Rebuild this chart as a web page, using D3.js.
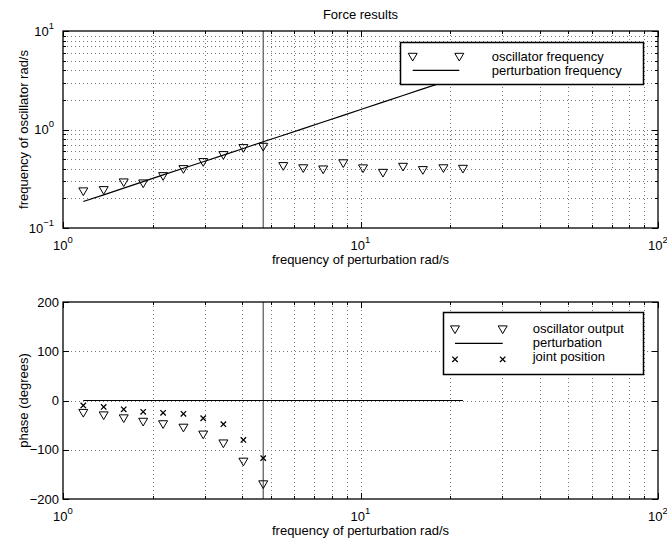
<!DOCTYPE html>
<html>
<head>
<meta charset="utf-8">
<script src="https://cdn.jsdelivr.net/npm/d3@7"></script>
<style>
  body { margin: 0; background: #fff; }
  svg { display: block; font-family: "Liberation Sans", Arial, Helvetica, sans-serif; }
</style>
</head>
<body>
<svg id="chart" width="667" height="541"></svg>
<script>
// Perturbation frequencies (rad/s)
const freqs = [1.17, 1.37, 1.60, 1.86, 2.17, 2.54, 2.96, 3.46, 4.04, 4.71,
               5.50, 6.42, 7.49, 8.75, 10.2, 11.9, 13.9, 16.2, 19.0, 22.1];

// Top panel: oscillator frequency and perturbation frequency
const oscFreq = [0.236, 0.243, 0.291, 0.284, 0.337, 0.397, 0.468, 0.551, 0.649, 0.669,
                 0.426, 0.405, 0.394, 0.455, 0.404, 0.364, 0.419, 0.388, 0.405, 0.400];
const perturbFreq = [0.186, 0.217, 0.254, 0.296, 0.346, 0.404, 0.471, 0.550, 0.642, 0.750,
                     0.875, 1.022, 1.193, 1.392, 1.625, 1.897, 2.214, 2.585, 3.018, 3.522];

// Bottom panel: phases (degrees), only first 10 frequencies for markers
const oscPhase = [-25, -30, -36, -43, -48, -55, -69, -87, -124, -170];
const jointPhase = [-10, -13, -18, -23, -25, -27, -36, -48, -80, -117];
const perturbPhase = [0, 0, 0, 0, 0, 0, 0, 0, 0, 0, 0, 0, 0, 0, 0, 0, 0, 0, 0, 0];

const resonanceFreq = 4.71;

// Tick labels
const xMajor = [1, 10, 100];
const topYMajor = [0.1, 1, 10];
const bottomYMajor = [-200, -100, 0, 100, 200];

const svg = d3.select("#chart");
const left = 63, right = 658;
const x = d3.scaleLog().domain([1, 100]).range([left, right]);

const triPath = "M-4.5,-3.4L4.5,-3.4L0,4.3Z";
const crossPath = "M-2.7,-2.7L2.7,2.7M-2.7,2.7L2.7,-2.7";

// superscripted power of ten label
function powLabel(sel, v) {
  const e = Math.round(Math.log10(v));
  sel.append("tspan").text("10");
  sel.append("tspan")
    .attr("dy", -7)
    .attr("font-size", 9.5)
    .text(e < 0 ? "\u2212" + (-e) : e);
}

function drawFrame(g, y, yGrid, yMajorSet, top, bottom) {
  const xAll = x.ticks();
  const grid = g.append("g")
    .attr("stroke", "#777")
    .attr("stroke-width", 1)
    .attr("stroke-dasharray", "1,3");

  grid.selectAll(".vg")
    .data(xAll.filter(d => d > 1 && d < 100))
    .join("line")
    .attr("x1", d => Math.round(x(d)) + 0.5).attr("x2", d => Math.round(x(d)) + 0.5)
    .attr("y1", top).attr("y2", bottom);

  grid.selectAll(".hg")
    .data(yGrid.filter(d => y(d) > top + 1 && y(d) < bottom - 1))
    .join("line")
    .attr("y1", d => Math.round(y(d)) + 0.5).attr("y2", d => Math.round(y(d)) + 0.5)
    .attr("x1", left).attr("x2", right);

  // inward ticks on all four sides
  const ticks = g.append("g").attr("stroke", "#000").attr("stroke-width", 1);
  xAll.forEach(d => {
    const len = xMajor.includes(d) ? 6 : 3;
    const px = Math.round(x(d)) + 0.5;
    ticks.append("line").attr("x1", px).attr("x2", px).attr("y1", bottom).attr("y2", bottom - len);
    ticks.append("line").attr("x1", px).attr("x2", px).attr("y1", top).attr("y2", top + len);
  });
  yGrid.forEach(d => {
    const len = yMajorSet.includes(d) ? 6 : 3;
    const py = Math.round(y(d)) + 0.5;
    ticks.append("line").attr("y1", py).attr("y2", py).attr("x1", left).attr("x2", left + len);
    ticks.append("line").attr("y1", py).attr("y2", py).attr("x1", right).attr("x2", right - len);
  });
}

function drawBorder(g, top, bottom) {
  g.append("rect")
    .attr("x", left).attr("y", top)
    .attr("width", right - left).attr("height", bottom - top)
    .attr("fill", "none")
    .attr("stroke", "#000")
    .attr("stroke-width", 1.3);
}

function drawResonance(g, top, bottom) {
  g.append("line")
    .attr("x1", x(resonanceFreq)).attr("x2", x(resonanceFreq))
    .attr("y1", top).attr("y2", bottom)
    .attr("stroke", "#555")
    .attr("stroke-width", 1.2);
}

function drawXLabels(g, bottom, labelY) {
  g.selectAll(".xt")
    .data(xMajor)
    .join("text")
    .attr("x", d => x(d))
    .attr("y", bottom + 22)
    .attr("text-anchor", "middle")
    .attr("font-size", 13)
    .each(function(d) { powLabel(d3.select(this), d); });

  g.append("text")
    .attr("x", (left + right) / 2)
    .attr("y", labelY)
    .attr("text-anchor", "middle")
    .attr("font-size", 13)
    .text("frequency of perturbation rad/s");
}

// ---------- Top panel ----------
const t = { top: 31, bottom: 228 };
const yTop = d3.scaleLog().domain([0.1, 10]).range([t.bottom, t.top]);
const gTop = svg.append("g");

drawFrame(gTop, yTop, yTop.ticks(), topYMajor, t.top, t.bottom);
drawResonance(gTop, t.top, t.bottom);

gTop.append("path")
  .datum(freqs.map((f, i) => [f, perturbFreq[i]]))
  .attr("fill", "none")
  .attr("stroke", "#000")
  .attr("stroke-width", 1.2)
  .attr("d", d3.line().x(d => x(d[0])).y(d => yTop(d[1])));

gTop.selectAll(".osc")
  .data(freqs.map((f, i) => [f, oscFreq[i]]))
  .join("path")
  .attr("d", triPath)
  .attr("transform", d => `translate(${x(d[0])},${yTop(d[1])})`)
  .attr("fill", "none")
  .attr("stroke", "#000")
  .attr("stroke-width", 1);

drawBorder(gTop, t.top, t.bottom);

gTop.selectAll(".yt")
  .data(topYMajor)
  .join("text")
  .attr("x", 54)
  .attr("y", d => yTop(d) + 4.5)
  .attr("text-anchor", "end")
  .attr("font-size", 13)
  .each(function(d) { powLabel(d3.select(this), d); });

drawXLabels(gTop, t.bottom, 264);

gTop.append("text")
  .attr("transform", `translate(28,${(t.top + t.bottom) / 2}) rotate(-90)`)
  .attr("text-anchor", "middle")
  .attr("font-size", 13)
  .text("frequency of oscillator rad/s");

svg.append("text")
  .attr("x", (left + right) / 2)
  .attr("y", 19)
  .attr("text-anchor", "middle")
  .attr("font-size", 13)
  .text("Force results");

// top legend
const lgTop = svg.append("g");
lgTop.append("rect")
  .attr("x", 400.5).attr("y", 42.5).attr("width", 243).attr("height", 42)
  .attr("fill", "#fff").attr("stroke", "#000").attr("stroke-width", 1.5);
[412.7, 459.3].forEach(px => {
  lgTop.append("path").attr("d", triPath)
    .attr("transform", `translate(${px},56.7)`)
    .attr("fill", "none").attr("stroke", "#000");
});
lgTop.append("line")
  .attr("x1", 412.7).attr("x2", 459.3).attr("y1", 70.3).attr("y2", 70.3)
  .attr("stroke", "#000").attr("stroke-width", 1.2);
lgTop.selectAll("text")
  .data(["oscillator frequency", "perturbation frequency"])
  .join("text")
  .attr("x", 491.7)
  .attr("y", (d, i) => 61 + i * 13.5)
  .attr("font-size", 13)
  .text(d => d);

// ---------- Bottom panel ----------
const b = { top: 302, bottom: 499 };
const yBot = d3.scaleLinear().domain([-200, 200]).range([b.bottom, b.top]);
const gBot = svg.append("g");

drawFrame(gBot, yBot, bottomYMajor, bottomYMajor, b.top, b.bottom);
drawResonance(gBot, b.top, b.bottom);

gBot.append("path")
  .datum(freqs.map((f, i) => [f, perturbPhase[i]]))
  .attr("fill", "none")
  .attr("stroke", "#000")
  .attr("stroke-width", 1.2)
  .attr("d", d3.line().x(d => x(d[0])).y(d => yBot(d[1])));

gBot.selectAll(".oscp")
  .data(oscPhase.map((p, i) => [freqs[i], p]))
  .join("path")
  .attr("d", triPath)
  .attr("transform", d => `translate(${x(d[0])},${yBot(d[1])})`)
  .attr("fill", "none")
  .attr("stroke", "#000");

gBot.selectAll(".jp")
  .data(jointPhase.map((p, i) => [freqs[i], p]))
  .join("path")
  .attr("d", crossPath)
  .attr("transform", d => `translate(${x(d[0])},${yBot(d[1])})`)
  .attr("fill", "none")
  .attr("stroke", "#000")
  .attr("stroke-width", 1.3);

drawBorder(gBot, b.top, b.bottom);

gBot.selectAll(".yt")
  .data(bottomYMajor)
  .join("text")
  .attr("x", 59)
  .attr("y", d => yBot(d) + 4.5)
  .attr("text-anchor", "end")
  .attr("font-size", 13)
  .text(d => d < 0 ? "\u2212" + (-d) : d);

drawXLabels(gBot, b.bottom, 535);

gBot.append("text")
  .attr("transform", `translate(28,${(b.top + b.bottom) / 2}) rotate(-90)`)
  .attr("text-anchor", "middle")
  .attr("font-size", 13)
  .text("phase (degrees)");

// bottom legend
const lgBot = svg.append("g");
lgBot.append("rect")
  .attr("x", 443.5).attr("y", 312.5).attr("width", 200).attr("height", 62)
  .attr("fill", "#fff").attr("stroke", "#000").attr("stroke-width", 1.5);
[455, 502.7].forEach(px => {
  lgBot.append("path").attr("d", triPath)
    .attr("transform", `translate(${px},329.3)`)
    .attr("fill", "none").attr("stroke", "#000");
  lgBot.append("path").attr("d", crossPath)
    .attr("transform", `translate(${px},359.3)`)
    .attr("fill", "none").attr("stroke", "#000").attr("stroke-width", 1.3);
});
lgBot.append("line")
  .attr("x1", 455).attr("x2", 502.7).attr("y1", 343.3).attr("y2", 343.3)
  .attr("stroke", "#000").attr("stroke-width", 1.2);
lgBot.selectAll("text")
  .data(["oscillator output", "perturbation", "joint position"])
  .join("text")
  .attr("x", 532.7)
  .attr("y", (d, i) => 333 + i * 14)
  .attr("font-size", 13)
  .text(d => d);
</script>
</body>
</html>
